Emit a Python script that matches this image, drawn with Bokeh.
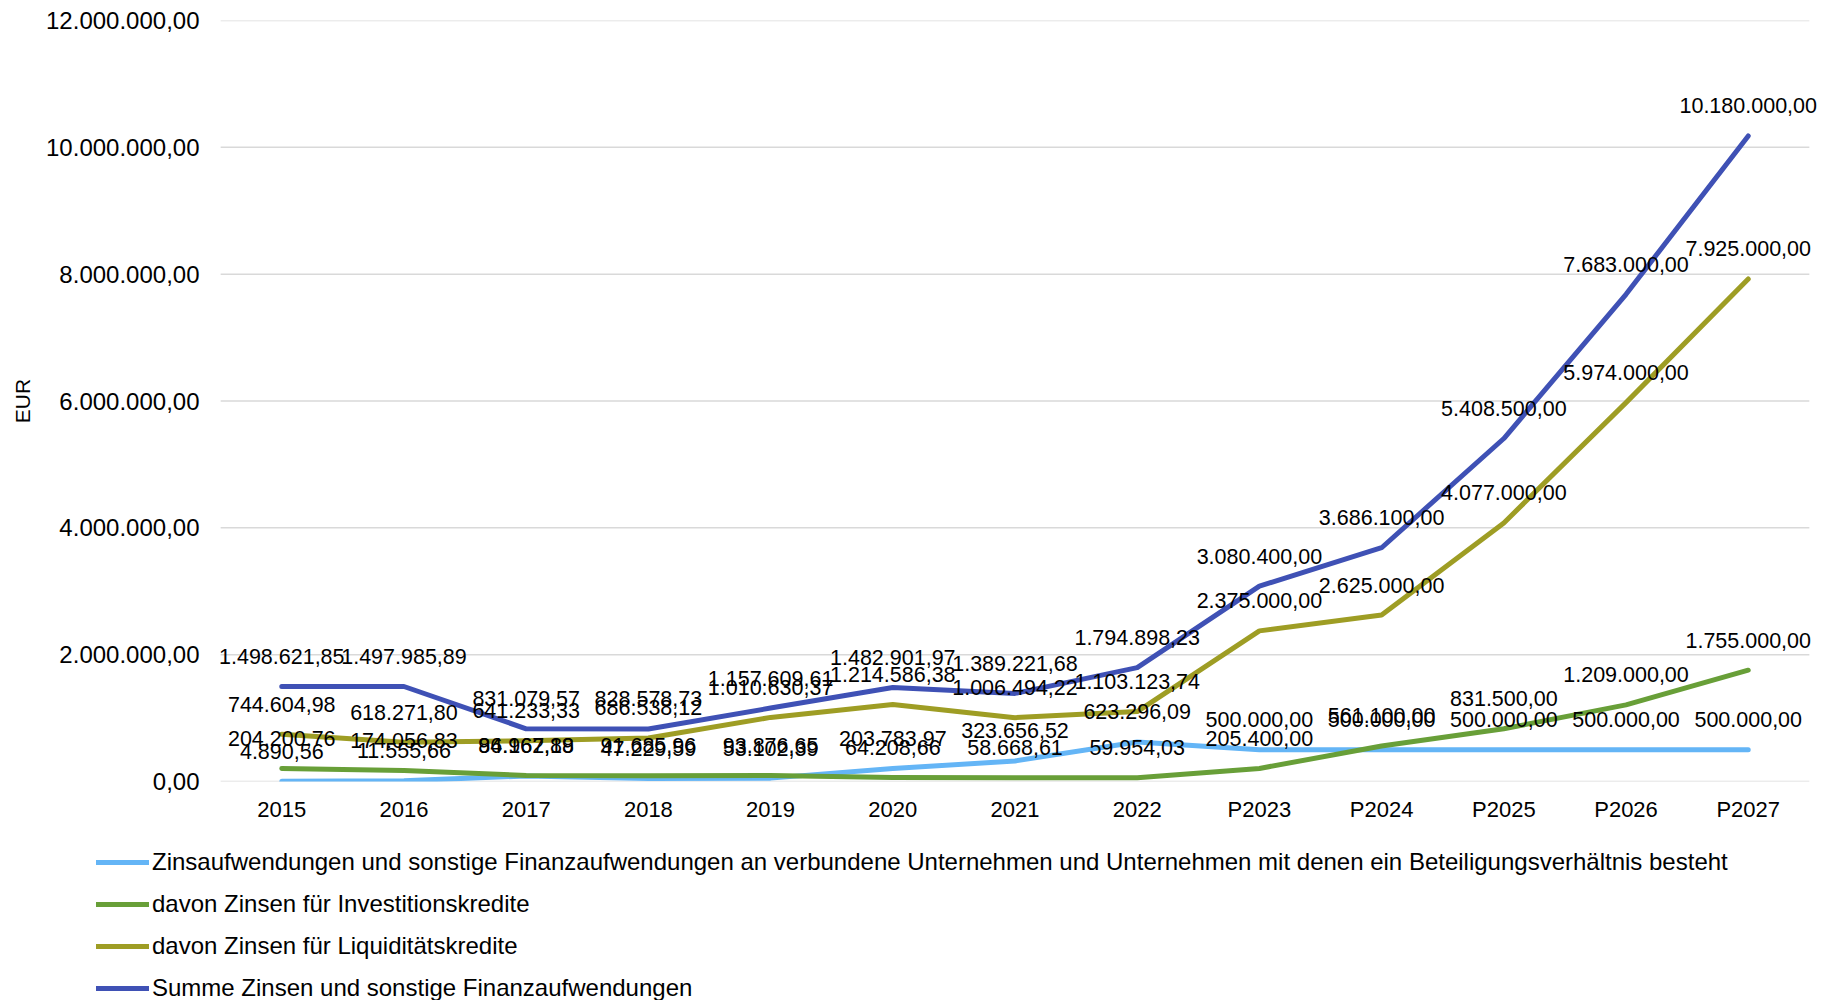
from bokeh.plotting import figure
from bokeh.layouts import column
from bokeh.models import (ColumnDataSource, FactorRange, Range1d, Legend, LegendItem,
                          LabelSet, FixedTicker)
from bokeh.core.properties import value
from bokeh.embed import file_html
from bokeh.resources import INLINE

categories = ["2015", "2016", "2017", "2018", "2019", "2020", "2021", "2022",
              "P2023", "P2024", "P2025", "P2026", "P2027"]

zins_verbunden = [4890.56, 11555.66, 86967.89, 47229.59, 53102.39, 203783.97, 323656.52,
                  623296.09, 500000.00, 500000.00, 500000.00, 500000.00, 500000.00]
zins_investition = [204200.76, 174056.83, 94162.18, 91685.96, 93876.65, 64208.66, 58668.61,
                    59954.03, 205400.00, 561100.00, 831500.00, 1209000.00, 1755000.00]
zins_liquiditaet = [744604.98, 618271.80, 641233.33, 686538.12, 1010630.37, 1214586.38,
                    1006494.22, 1103123.74, 2375000.00, 2625000.00, 4077000.00, 5974000.00,
                    7925000.00]
zins_summe = [1498621.85, 1497985.89, 831079.57, 828578.73, 1157609.61, 1482901.97,
              1389221.68, 1794898.23, 3080400.00, 3686100.00, 5408500.00, 7683000.00,
              10180000.00]

series_names = [
    "Zinsaufwendungen und sonstige Finanzaufwendungen an verbundene Unternehmen und Unternehmen mit denen ein Beteiligungsverhältnis besteht",
    "davon Zinsen für Investitionskredite",
    "davon Zinsen für Liquiditätskredite",
    "Summe Zinsen und sonstige Finanzaufwendungen",
]
series_colors = ["#64B5F6", "#689F38", "#9E9D24", "#3F51B5"]

y_ticks = [0, 2000000, 4000000, 6000000, 8000000, 10000000, 12000000]
y_tick_labels = ["0,00", "2.000.000,00", "4.000.000,00", "6.000.000,00",
                 "8.000.000,00", "10.000.000,00", "12.000.000,00"]

FONT = "Liberation Sans"
PAD = 0.075  # extra room (in category widths) so edge labels are not cut


def de(v):
    s = f"{v:,.2f}"
    return s.replace(",", "X").replace(".", ",").replace("X", ".")


p = figure(x_range=FactorRange(*categories, range_padding=PAD,
                               range_padding_units="absolute"),
           y_range=Range1d(0, 12000000),
           frame_width=1607, frame_height=761,
           min_border_left=211, min_border_right=10, min_border_top=20, min_border_bottom=49,
           output_backend="svg", toolbar_location=None)

p.outline_line_color = None
p.xgrid.grid_line_color = None
p.ygrid.grid_line_color = None

# horizontal grid lines spanning exactly the category band
n = len(categories)
p.segment(x0=[0] * len(y_ticks), x1=[n] * len(y_ticks), y0=y_ticks, y1=y_ticks,
          line_color="#D9D9D9", line_width=1.5)

p.yaxis.ticker = FixedTicker(ticks=y_ticks)
p.yaxis.major_label_overrides = {t: l for t, l in zip(y_ticks, y_tick_labels)}
p.yaxis.axis_line_color = None
p.yaxis.major_tick_line_color = None
p.yaxis.minor_tick_line_color = None
p.yaxis.major_label_text_font = FONT
p.yaxis.major_label_text_font_size = "24px"
p.yaxis.major_label_text_color = "#000000"
p.yaxis.major_label_standoff = 6
p.yaxis.axis_label = "EUR"
p.yaxis.axis_label_text_font = FONT
p.yaxis.axis_label_text_font_style = "normal"
p.yaxis.axis_label_text_font_size = "21px"
p.yaxis.axis_label_text_color = "#000000"
p.yaxis.axis_label_standoff = 9

p.xaxis.axis_line_color = None
p.xaxis.major_tick_line_color = None
p.xaxis.minor_tick_line_color = None
p.xaxis.major_label_text_font = FONT
p.xaxis.major_label_text_font_size = "22px"
p.xaxis.major_label_text_color = "#000000"
p.xaxis.major_label_standoff = 9

all_series = [zins_verbunden, zins_investition, zins_liquiditaet, zins_summe]
for vals, col in zip(all_series, series_colors):
    src = ColumnDataSource(dict(x=categories, y=vals, lab=[de(v) for v in vals]))
    p.line("x", "y", source=src, line_color=col, line_width=5,
           line_cap="round", line_join="round")
    p.add_layout(LabelSet(x="x", y="y", text="lab", source=src, y_offset=30,
                          text_align="center", text_baseline="middle",
                          text_font=value(FONT), text_font_size=value("21.5px"),
                          text_color="#000000"))

# legend panel below the chart
lg = figure(x_range=Range1d(0, 1), y_range=Range1d(0, 1),
            frame_width=1828, frame_height=170,
            min_border_left=0, min_border_right=0, min_border_top=0, min_border_bottom=0,
            x_axis_location=None, y_axis_location=None,
            output_backend="svg", toolbar_location=None)
lg.outline_line_color = None
lg.xgrid.visible = False
lg.ygrid.visible = False
items = []
for name, col in zip(series_names, series_colors):
    r = lg.line(x=[-5, -4], y=[-5, -4], line_color=col, line_width=5, line_cap="round")
    items.append(LegendItem(label=name, renderers=[r]))
legend = Legend(items=items, location=(96, -2), orientation="vertical",
                label_text_font=FONT, label_text_font_size="24px",
                label_text_color="#000000",
                glyph_width=53, glyph_height=24, label_height=24, spacing=14,
                padding=0, margin=0, label_standoff=3,
                border_line_alpha=0, background_fill_alpha=0)
lg.add_layout(legend, "center")

layout = column(p, lg, spacing=0)
open("out.html", "w").write(file_html(layout, INLINE))
